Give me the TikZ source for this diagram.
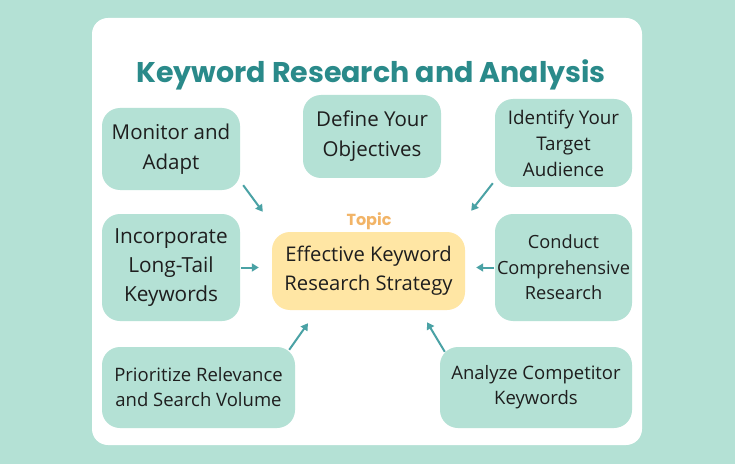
\documentclass[tikz,border=0pt]{standalone}
\usepackage{fontspec}
\setmainfont{Open Sans}
\newfontfamily\titlefont{Poppins}
\usetikzlibrary{arrows.meta}
\definecolor{bgmint}{HTML}{B4E1D5}
\definecolor{boxmint}{HTML}{B4E1D5}
\definecolor{titleteal}{HTML}{2A8A8A}
\definecolor{arrteal}{HTML}{4AA2A5}
\definecolor{topicfill}{HTML}{FFE6A4}
\definecolor{topiclab}{HTML}{F2B467}
\definecolor{txt}{HTML}{1E1E1E}
\begin{document}
\begin{tikzpicture}[x=1pt,y=1pt,
  card/.style={fill=white,rounded corners=16pt},
  sbox/.style={fill=boxmint,rounded corners=18pt,align=center,text=txt,inner sep=0pt},
  tbox/.style={fill=topicfill,rounded corners=18pt,align=center,text=txt,inner sep=0pt},
  arr/.style={draw=arrteal,line width=2pt,-{Triangle[length=7pt,width=8pt]}}]
\useasboundingbox (0,0) rectangle (735,464);
\fill[bgmint] (0,0) rectangle (735,464);
\fill[card] (92,19) rectangle (642,446);
\node[font=\titlefont\bfseries\fontsize{28.5}{32}\selectfont,text=titleteal] (title) at (371,389) {Keyword Research and Analysis};
\node[sbox,minimum width=138pt,minimum height=82pt,font=\fontsize{20.5}{30}\selectfont] (mon) at (171,315) {Monitor and\\Adapt};
\node[sbox,minimum width=138pt,minimum height=83pt,font=\fontsize{20.5}{30}\selectfont] (def) at (372,327.5) {Define Your\\Objectives};
\node[sbox,minimum width=137pt,minimum height=88pt,font=\fontsize{18.8}{26}\selectfont] (ide) at (563.5,321) {Identify Your\\Target\\Audience};
\node[sbox,minimum width=138pt,minimum height=107pt,font=\fontsize{20.8}{29}\selectfont] (inc) at (171,196.5) {Incorporate\\Long-Tail\\Keywords};
\node[tbox,minimum width=193pt,minimum height=78pt,font=\fontsize{20.2}{29}\selectfont] (topic) at (368.5,193) {Effective Keyword\\Research Strategy};
\node[font=\titlefont\bfseries\fontsize{16}{18}\selectfont,text=topiclab] (toplab) at (369,243) {Topic};
\node[sbox,minimum width=137pt,minimum height=107pt,font=\fontsize{18.2}{25.5}\selectfont] (con) at (563.5,196.5) {Conduct\\Comprehensive\\Research};
\node[sbox,minimum width=193pt,minimum height=81pt,font=\fontsize{18.5}{25}\selectfont] (pri) at (198.5,76.5) {Prioritize Relevance\\and Search Volume};
\node[sbox,minimum width=192pt,minimum height=81pt,font=\fontsize{18.5}{25}\selectfont] (ana) at (536,76.5) {Analyze Competitor\\Keywords};
\draw[arr] ([shift={(3,5)}]mon.south east) -- ([shift={(-9,20)}]topic.north west);
\draw[arr] ([shift={(-2,4)}]ide.south west) -- ([shift={(6,21)}]topic.north east);
\draw[arr] ([xshift=1]inc.east) -- ([xshift=-13]inc.east -| topic.west);
\draw[arr] ([xshift=-1]con.west) -- ([xshift=11]con.west -| topic.east);
\draw[arr] ([shift={(-6,-3)}]pri.north east) -- ([shift={(-60.5,-13)}]topic.south);
\draw[arr] ([shift={(5,-5)}]ana.north west) -- ([shift={(58.5,-12)}]topic.south);
\end{tikzpicture}
\end{document}
